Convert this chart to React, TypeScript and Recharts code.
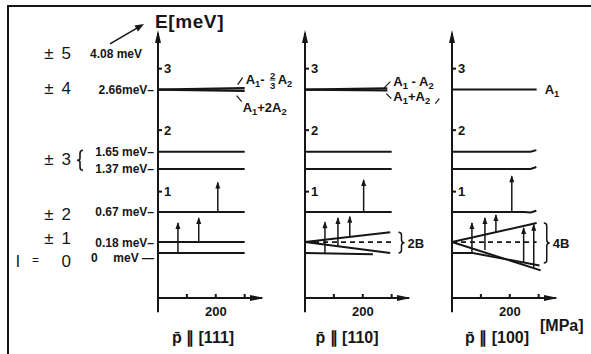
import { Fragment } from 'react'
import { LineChart, Line, XAxis, YAxis, ReferenceLine, ReferenceDot } from 'recharts'

const INK = '#161616'
const FONT = '"Liberation Sans", Arial, sans-serif'

// shared scales
const pDomain: [number, number] = [0, 360] // MPa
const pTicks = [100, 200, 300]
const pTickText = ['', '200', '']
const eDomain: [number, number] = [-0.73, 3.58] // meV
const eTicks = [1, 2, 3]
const eAxisFoot = -0.96

// level labels on the left
const levelE = [0, 0.18, 0.67, 1.37, 1.65, 2.66]
const levelText = ['meV —', '0.18 meV–', '0.67 meV–', '1.37 meV–', '1.65 meV–', '2.66meV–']
const topLevelText = '4.08 meV'
const topLevelAt = 3.24 // 4.08 meV lies off the scale
const jText = ['0', '1', '2', '3', '4', '5']
const jAt = [0, 0.18, 0.67, 1.51, 2.66, 3.24]

// p || [111]
const p111 = [0, 300]
const flat111 = [0, 0.18, 0.67, 1.37, 1.65]
const upper111 = [2.66, 2.685] // A1 - 2/3 A2
const lower111 = [2.66, 2.64] // A1 + 2A2
const liftP111 = [69, 141, 207]
const liftFrom111 = [0, 0.18, 0.67]
const liftTo111 = [0.49, 0.57, 1.15]

// p || [110]
const p110 = [0, 300]
const flat110 = [0.67, 1.37, 1.65]
const pA110 = [0, 285]
const upper110 = [2.66, 2.68] // A1 - A2
const lower110 = [2.66, 2.645] // A1 + A2
const pFan110 = [0, 295]
const fanUp110 = [0.18, 0.34]
const fanDown110 = [0.18, 0.0]
const mid110 = [0.18, 0.18]
const pGround110 = [0, 235]
const ground110 = [0, -0.02]
const liftP110 = [69, 114, 155, 203]
const liftFrom110 = [0, 0.11, 0.26, 0.67]
const liftTo110 = [0.5, 0.57, 0.59, 1.19]
const braceP110 = 334
const braceE110 = [0.34, 0.0]

// p || [100]
const pA100 = [0, 293]
const a100 = [2.66, 2.66] // A1
const pBend100 = [0, 250, 272, 292]
const bend067 = [0.67, 0.67, 0.66, 0.69]
const bend137 = [1.37, 1.37, 1.37, 1.4]
const bend165 = [1.65, 1.65, 1.65, 1.675]
const pFanUp100 = [0, 293]
const fanUp100 = [0.18, 0.49]
const mid100 = [0.18, 0.18]
const pFanDown100 = [0, 307]
const fanDown100 = [0.18, -0.28]
const pGround100 = [0, 72, 303]
const ground100 = [0, 0, -0.2]
const liftP100 = [69, 114, 152, 207, 248, 283]
const liftFrom100 = [0, 0.05, 0.34, 0.67, -0.15, -0.24]
const liftTo100 = [0.49, 0.57, 0.62, 1.25, 0.41, 0.46]
const braceP100 = 328
const braceE100 = [0.49, -0.16]

const PLOT_W = 104
const BOLD = 700
// baseline shift of the quantum number labels, row by row
const jDy = [14, 2, 8, 5, 4, 5]

type Curve = { p: number[]; e: number[]; dashed?: boolean; w?: number; axis?: string }

const pts = (p: number[], e: number[]) => p.map((x, i) => ({ p: x, e: e[i] }))

function Sub({ x, y, parts, size = 13 }: { x: number; y: number; parts: [string, string][]; size?: number }) {
  return (
    <text x={x} y={y} fontSize={size} fill={INK}>
      {parts.map(([m, s], i) => (
        <Fragment key={i}>
          <tspan dy={i > 0 && parts[i - 1][1] ? -3 : 0}>{m}</tspan>
          {s && (
            <tspan dy={3} fontSize={size * 0.72}>
              {s}
            </tspan>
          )}
        </Fragment>
      ))}
    </text>
  )
}

function LevelTick(props: any) {
  const { x, y, payload } = props
  const v = payload.value
  const li = levelE.indexOf(v)
  const ji = jAt.indexOf(v)
  const j = ji >= 0 ? jText[ji] : null
  const ly = li === 0 ? y + 9 : y + 4.5
  const jy = ji >= 0 ? y + jDy[ji] : y
  return (
    <g fill={INK} fontFamily={FONT} fontWeight={BOLD}>
      {li >= 0 && (
        <text x={x - 4} y={ly} textAnchor="end" fontSize={12}>
          {levelText[li]}
        </text>
      )}
      {li === 0 && (
        <text x={x - 67} y={ly} fontSize={12}>
          0
        </text>
      )}
      {v === topLevelAt && (
        <g>
          <text x={x - 68} y={y + 4.5} fontSize={12}>
            {topLevelText}
          </text>
          <line x1={x - 48} y1={y - 10} x2={x - 19} y2={y - 27} stroke={INK} strokeWidth={1.6} />
          <polygon points={`${x - 14},${y - 30} ${x - 20},${y - 22.5} ${x - 23.5},${y - 28.5}`} fill={INK} />
        </g>
      )}
      {j === '0' && (
        <g fontSize={17} fontWeight={400}>
          <text x={x - 142} y={jy}>l</text>
          <text x={x - 126} y={jy - 3} fontSize={12}>=</text>
          <text x={x - 87} y={jy} textAnchor="end">
            0
          </text>
        </g>
      )}
      {j && j !== '0' && (
        <g fontSize={17} fontWeight={400}>
          <text x={x - 109} y={jy} textAnchor="middle">
            ±
          </text>
          <text x={x - 87} y={jy} textAnchor="end">
            {j}
          </text>
        </g>
      )}
      {j === '3' && (
        <path
          d={`M${x - 75},${y - 10} Q${x - 78},${y - 10} ${x - 78},${y - 7} L${x - 78},${y - 2} Q${x - 78},${y} ${x - 81},${y} Q${x - 78},${y} ${x - 78},${y + 2} L${x - 78},${y + 7} Q${x - 78},${y + 10} ${x - 75},${y + 10}`}
          fill="none"
          stroke={INK}
          strokeWidth={1.6}
        />
      )}
    </g>
  )
}

function ETick(props: any) {
  const { x, y, payload } = props
  return (
    <g>
      <line x1={x} y1={y} x2={x + 4} y2={y} stroke={INK} strokeWidth={2} />
      <text x={x + 6} y={y + 4.5} fontSize={13} fill={INK} fontFamily={FONT} fontWeight={BOLD}>
        {payload.value}
      </text>
    </g>
  )
}

function PTick(props: any) {
  const { x, y, payload } = props
  const i = pTicks.indexOf(payload.value)
  return (
    <g>
      <line x1={x} y1={y} x2={x} y2={y - 4} stroke={INK} strokeWidth={2} />
      {pTickText[i] && (
        <text x={x} y={y + 18} textAnchor="middle" fontSize={13} fill={INK} fontFamily={FONT} fontWeight={BOLD}>
          {pTickText[i]}
        </text>
      )}
    </g>
  )
}

function LiftHead(props: any) {
  const { cx, cy, index } = props
  if (index !== 1) return <g />
  return <polygon points={`${cx},${cy - 1} ${cx - 2.5},${cy + 6} ${cx + 2.5},${cy + 6}`} fill={INK} />
}

const upHead = (pr: any) => (
  <polygon points={`${pr.cx},${pr.cy - 3} ${pr.cx - 3},${pr.cy + 10} ${pr.cx + 3},${pr.cy + 10}`} fill={INK} />
)
const rightHead = (pr: any) => (
  <polygon points={`${pr.cx + 2},${pr.cy} ${pr.cx - 12},${pr.cy - 3} ${pr.cx - 12},${pr.cy + 3}`} fill={INK} />
)

const braceShape = (text: string) => (pr: any) => {
  const x = pr.x1
  const top = Math.min(pr.y1, pr.y2)
  const bot = Math.max(pr.y1, pr.y2)
  const m = (top + bot) / 2
  const d = `M${x - 3},${top} Q${x},${top} ${x},${top + 3} L${x},${m - 3} Q${x},${m} ${x + 3},${m} Q${x},${m} ${x},${m + 3} L${x},${bot - 3} Q${x},${bot} ${x - 3},${bot}`
  return (
    <g>
      <path d={d} fill="none" stroke={INK} strokeWidth={1.5} />
      <text x={x + 6} y={m + 5} fontSize={13} fill={INK} fontFamily={FONT} fontWeight={BOLD}>
        {text}
      </text>
    </g>
  )
}

const labels111 = (pr: any) => {
  const { cx: ax, cy: ay } = pr
  return (
    <g fontFamily={FONT} fontWeight={BOLD}>
      <line x1={ax - 7} y1={ay - 5} x2={ax - 2} y2={ay - 12} stroke={INK} strokeWidth={1.2} />
      <Sub x={ax + 1} y={ay - 6} parts={[['A', '1'], ['-', '']]} />
      <text x={ax + 28} y={ay - 11} fontSize={9.5} textAnchor="middle" fill={INK}>
        2
      </text>
      <line x1={ax + 25} y1={ay - 9.5} x2={ax + 31} y2={ay - 9.5} stroke={INK} strokeWidth={0.8} />
      <text x={ax + 28} y={ay - 1} fontSize={9.5} textAnchor="middle" fill={INK}>
        3
      </text>
      <Sub x={ax + 33} y={ay - 6} parts={[['A', '2']]} />
      <line x1={ax - 8} y1={ay + 6} x2={ax - 3} y2={ay + 12} stroke={INK} strokeWidth={1.2} />
      <Sub x={ax - 2} y={ay + 22} parts={[['A', '1'], ['+2A', '2']]} />
    </g>
  )
}

const labels110 = (pr: any) => {
  const { cx: ax, cy: ay } = pr
  return (
    <g fontFamily={FONT} fontWeight={BOLD}>
      <line x1={ax - 3} y1={ay - 2} x2={ax + 3} y2={ay - 8} stroke={INK} strokeWidth={1.2} />
      <Sub x={ax + 6} y={ay - 4} parts={[['A', '1'], [' - A', '2']]} />
      <line x1={ax - 1} y1={ay + 4} x2={ax + 4} y2={ay + 9} stroke={INK} strokeWidth={1.2} />
      <Sub x={ax + 6} y={ay + 11} parts={[['A', '1'], ['+A', '2']]} />
      <line x1={ax + 48} y1={ay + 14} x2={ax + 52} y2={ay + 9} stroke={INK} strokeWidth={1.2} />
    </g>
  )
}

const labels100 = (pr: any) => (
  <g fontFamily={FONT} fontWeight={BOLD}>
    <Sub x={pr.cx + 8} y={pr.cy + 4} parts={[['A', '1']]} />
  </g>
)

interface PanelProps {
  left: number
  marginLeft: number
  width: number
  curves: Curve[]
  liftP: number[]
  liftFrom: number[]
  liftTo: number[]
  anchor: [number, number]
  anchorShape: (pr: any) => any
  braceP?: number
  braceE?: number[]
  braceText?: string
  levelAxis?: boolean
}

function Panel(pp: PanelProps) {
  const axisW = pp.levelAxis ? 158 : 0
  const right = pp.width - pp.marginLeft - axisW - PLOT_W
  return (
    <div style={{ position: 'absolute', left: pp.left, top: 0 }}>
      <LineChart width={pp.width} height={354} margin={{ top: 33, right, bottom: 36, left: pp.marginLeft }}>
        <XAxis
          type="number"
          dataKey="p"
          domain={pDomain}
          ticks={pTicks}
          interval={0}
          height={20}
          tickSize={0}
          tickMargin={0}
          tick={PTick}
          tickLine={false}
          axisLine={{ stroke: INK, strokeWidth: 2 }}
        />
        {pp.levelAxis && (
          <YAxis
            yAxisId="lbl"
            type="number"
            width={158}
            domain={eDomain}
            ticks={[0, 0.18, 0.67, 1.37, 1.51, 1.65, 2.66, topLevelAt]}
            interval={0}
            tickSize={0}
            tickMargin={0}
            axisLine={false}
            tickLine={false}
            tick={<LevelTick />}
          />
        )}
        <YAxis
          type="number"
          mirror
          domain={eDomain}
          ticks={eTicks}
          interval={0}
          tickSize={0}
          tickMargin={0}
          tick={<ETick />}
          tickLine={false}
          axisLine={{ stroke: INK, strokeWidth: 2 }}
        />
        <ReferenceLine
          segment={[
            { x: 0, y: eDomain[0] },
            { x: 0, y: eAxisFoot },
          ]}
          stroke={INK}
          strokeWidth={2}
          ifOverflow="visible"
        />
        <ReferenceDot x={0} y={eDomain[1]} r={0} shape={upHead} ifOverflow="visible" />
        <ReferenceDot x={pDomain[1]} y={eDomain[0]} r={0} shape={rightHead} ifOverflow="visible" />
        {pp.curves.map((c, i) => (
          <Line
            key={'c' + i}
            yAxisId={c.axis ?? 0}
            data={pts(c.p, c.e)}
            dataKey="e"
            type="linear"
            stroke={INK}
            strokeWidth={c.w ?? 2}
            strokeDasharray={c.dashed ? '5 4' : undefined}
            dot={false}
            activeDot={false}
            isAnimationActive={false}
          />
        ))}
        {pp.liftP.map((p, i) => (
          <Line
            key={'l' + i}
            data={pts([p, p], [pp.liftFrom[i], pp.liftTo[i]])}
            dataKey="e"
            type="linear"
            stroke={INK}
            strokeWidth={1.5}
            dot={LiftHead}
            activeDot={false}
            isAnimationActive={false}
          />
        ))}
        {pp.braceP !== undefined && pp.braceE && (
          <ReferenceLine
            segment={[
              { x: pp.braceP, y: pp.braceE[0] },
              { x: pp.braceP, y: pp.braceE[1] },
            ]}
            shape={braceShape(pp.braceText ?? '')}
            ifOverflow="visible"
          />
        )}
        <ReferenceDot x={pp.anchor[0]} y={pp.anchor[1]} r={0} shape={pp.anchorShape} ifOverflow="visible" />
      </LineChart>
    </div>
  )
}

// the levels of the [111] panel are read on the labelled level axis
const curves111: Curve[] = [
  ...flat111.map((e) => ({ p: p111, e: [e, e], axis: 'lbl' })),
  { p: p111, e: upper111, w: 2.2, axis: 'lbl' },
  { p: p111, e: lower111, w: 2.2, axis: 'lbl' },
]

const curves110: Curve[] = [
  ...flat110.map((e) => ({ p: p110, e: [e, e] })),
  { p: pA110, e: upper110, w: 2.2 },
  { p: pA110, e: lower110, w: 2.2 },
  { p: pFan110, e: fanUp110 },
  { p: pFan110, e: fanDown110 },
  { p: p110, e: mid110, dashed: true, w: 1.8 },
  { p: pGround110, e: ground110 },
]

const curves100: Curve[] = [
  { p: pA100, e: a100 },
  { p: pBend100, e: bend067 },
  { p: pBend100, e: bend137 },
  { p: pBend100, e: bend165 },
  { p: pFanUp100, e: fanUp100 },
  { p: pFanUp100, e: mid100, dashed: true, w: 1.8 },
  { p: pFanDown100, e: fanDown100 },
  { p: pGround100, e: ground100 },
]

const titleStyle = (cx: number) =>
  ({
    position: 'absolute',
    left: cx - 50,
    width: 100,
    top: 330,
    textAlign: 'center',
    fontSize: 16,
    fontWeight: BOLD,
    lineHeight: 1,
    color: INK,
    whiteSpace: 'nowrap',
  }) as const

export default function App() {
  return (
    <div
      style={{
        position: 'absolute',
        left: 0,
        top: 0,
        width: 591,
        height: 354,
        background: '#fff',
        fontFamily: FONT,
        overflow: 'hidden',
      }}
    >
      <div
        style={{
          position: 'absolute',
          left: 7,
          top: 5,
          width: 584,
          height: 349,
          boxSizing: 'border-box',
          borderTop: `2px solid ${INK}`,
          borderLeft: `2px solid ${INK}`,
        }}
      />
      <Panel
        left={0}
        marginLeft={0}
        width={300}
        levelAxis
        curves={curves111}
        liftP={liftP111}
        liftFrom={liftFrom111}
        liftTo={liftTo111}
        anchor={[p111[1], upper111[0]]}
        anchorShape={labels111}
      />
      <Panel
        left={295}
        marginLeft={10}
        width={150}
        curves={curves110}
        liftP={liftP110}
        liftFrom={liftFrom110}
        liftTo={liftTo110}
        anchor={[pA110[1], upper110[0]]}
        anchorShape={labels110}
        braceP={braceP110}
        braceE={braceE110}
        braceText="2B"
      />
      <Panel
        left={442}
        marginLeft={10}
        width={149}
        curves={curves100}
        liftP={liftP100}
        liftFrom={liftFrom100}
        liftTo={liftTo100}
        anchor={[pA100[1], a100[0]]}
        anchorShape={labels100}
        braceP={braceP100}
        braceE={braceE100}
        braceText="4B"
      />
      <div
        style={{
          position: 'absolute',
          left: 155,
          top: 12,
          fontSize: 19,
          fontWeight: BOLD,
          letterSpacing: 0.6,
          lineHeight: 1,
          color: INK,
        }}
      >
        E[meV]
      </div>
      <div style={titleStyle(203)}>p̄ ∥ [111]</div>
      <div style={titleStyle(347)}>p̄ ∥ [110]</div>
      <div style={titleStyle(497)}>p̄ ∥ [100]</div>
      <div style={{ position: 'absolute', left: 540, top: 318, fontSize: 16, fontWeight: BOLD, lineHeight: 1, color: INK }}>
        [MPa]
      </div>
    </div>
  )
}
